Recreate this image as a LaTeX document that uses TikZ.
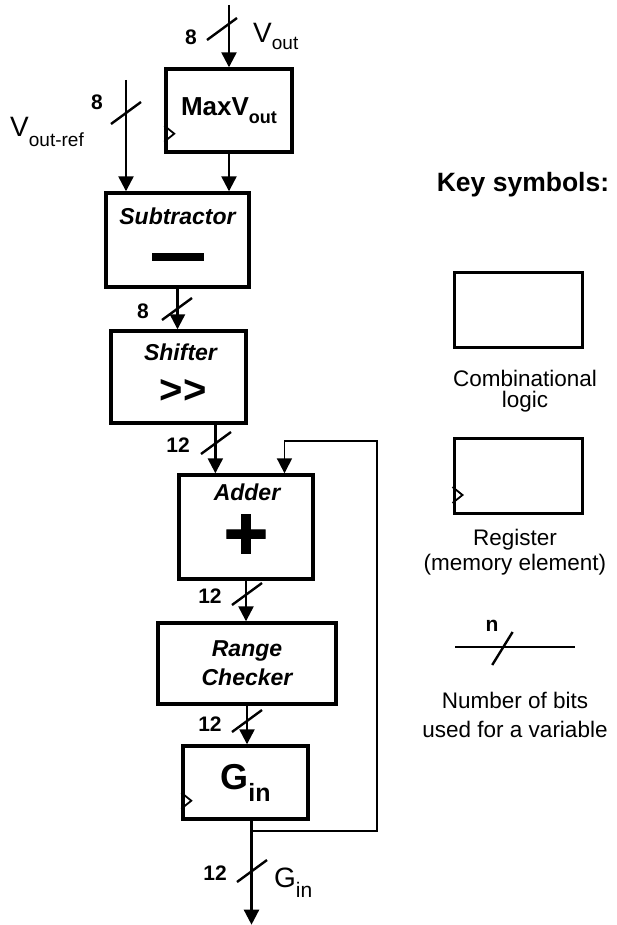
\documentclass[tikz,border=0pt]{standalone}
\usepackage{fontspec}
\setmainfont{Liberation Sans}
\newfontfamily\plusfont[FakeBold=1.5]{Liberation Sans Bold}
\usepackage{tikz}
\usetikzlibrary{calc,arrows.meta}

% font sizes
\newcommand{\bitfont}{\fontsize{21}{21}\selectfont\bfseries}
\newcommand{\titlefont}{\fontsize{23}{29}\selectfont\bfseries\itshape}
% bus width mark
\newcommand{\busslash}[1]{\draw[line width=2.4pt] ($(#1)+(-15,11)$) -- ($(#1)+(15,-11)$);}
% clock input of a register
\newcommand{\clk}[1]{\draw[line width=1.8pt] ($(#1.south west)+(0,-12)$) -- ++(10,-8) -- ++(-10,-8);}

\begin{document}
\begin{tikzpicture}[x=1pt,y=-1pt,
  block/.style={draw,line width=3.4pt,inner sep=0pt,align=center},
  bus/.style={line width=2.4pt,-{Triangle[length=15pt,width=15pt]}},
  bits/.style={font=\bitfont,inner sep=0pt}]

  \useasboundingbox (0,0) rectangle (616,925);

  % Blocks of the datapath
  \node[block,minimum width=126pt,minimum height=83pt,font=\fontsize{26}{26}\selectfont\bfseries] (maxv) at (229,110.5) {MaxV\raisebox{-8pt}{\fontsize{18}{18}\selectfont out}};
  \node[block,minimum width=143pt,minimum height=94pt] (sub) at (177.5,240) {};
  \node[block,minimum width=135pt,minimum height=92pt] (shift) at (178.5,377) {};
  \node[block,minimum width=134pt,minimum height=104pt] (adder) at (246,527) {};
  \node[block,minimum width=178pt,minimum height=81pt,font=\titlefont] (range) at (247,663.5) {Range\\Checker};
  \node[block,minimum width=125pt,minimum height=73pt,font=\fontsize{36}{36}\selectfont\bfseries] (gin) at (245.5,782.5) {G\raisebox{-12pt}{\fontsize{25}{25}\selectfont in}};

  % Block titles and operators
  \node[font=\titlefont,anchor=base,inner sep=0pt] (subt) at ($(sub.north)+(0,33)$) {Subtractor};
  \node[fill,minimum width=52pt,minimum height=8pt,inner sep=0pt] (minus) at (178,257) {};
  \node[font=\titlefont,anchor=base,inner sep=0pt] (shiftt) at ($(shift.north)+(2,31)$) {Shifter};
  \node[font=\fontsize{40}{40}\selectfont\bfseries,inner sep=0pt] (shr) at (183,391) {>{}>};
  \node[font=\titlefont,anchor=base,inner sep=0pt,text depth=0pt] (addt) at ($(adder.north)+(1,27)$) {Adder};
  \node[font=\plusfont\fontsize{76}{76}\selectfont,inner sep=0pt] (plus) at (246,537) {+};

  % Clock inputs
  \clk{maxv}
  \clk{gin}

  % Connectors
  \coordinate (vin) at (229,5);
  \coordinate (refin) at (126,80);
  \coordinate (addin) at ($(adder.north west)!0.277!(adder.north east)$);
  \coordinate (fbin) at ($(adder.north west)!0.78!(adder.north east)$);
  \coordinate (gout) at ($(gin.south)+(6,0)$);
  \coordinate (gend) at ($(gout)+(0,104)$);
  \coordinate (tap) at ($(gout)+(0,10)$);
  \coordinate (loopr) at (377,441);

  \draw[bus] (vin) -- (maxv.north);
  \draw[bus] (refin) -- (refin |- sub.north);
  \draw[bus] (maxv.south) -- (maxv.south |- sub.north);
  \draw[bus] (sub.south) -- (sub.south |- shift.north);
  \draw[bus] (addin |- shift.south) -- (addin);
  \draw[bus] (adder.south) -- (adder.south |- range.north);
  \draw[bus] (range.south) -- (range.south |- gin.north);
  \draw[bus] (gout) -- (gend);
  % feedback of the gain
  \draw[line width=1.8pt,-{Triangle[length=15pt,width=15pt]}] (tap) -| (loopr) -| (fbin);

  % Bus widths
  \busslash{222,29}
  \busslash{126,113}
  \busslash{177,309}
  \busslash{216,443}
  \busslash{247,594}
  \busslash{247,721}
  \busslash{252,871}
  \node[bits] (b1) at (191,37) {8};
  \node[bits] (b2) at (97,102) {8};
  \node[bits] (b3) at (143,311) {8};
  \node[bits] (b4) at (178,445) {12};
  \node[bits] (b5) at (210,596) {12};
  \node[bits] (b6) at (210,724) {12};
  \node[bits] (b7) at (215,873) {12};

  % Signal names
  \node[anchor=base west,inner sep=0pt,font=\fontsize{28}{28}\selectfont] (voutl) at (253,43) {V\raisebox{-7pt}{\fontsize{19}{19}\selectfont out}};
  \node[anchor=base west,inner sep=0pt,font=\fontsize{28}{28}\selectfont] (vrefl) at (10,137) {V\raisebox{-10pt}{\fontsize{19}{19}\selectfont out-ref}};
  \node[anchor=base west,inner sep=0pt,font=\fontsize{28}{28}\selectfont] (goutl) at (274,887) {G\raisebox{-10pt}{\fontsize{21}{21}\selectfont in}};

  % Key symbols
  \node[font=\fontsize{26.5}{27}\selectfont\bfseries,anchor=base] (keyt) at (523,192) {Key symbols:};
  \node[block,line width=3pt,minimum width=128pt,minimum height=75pt] (comb) at (518,309.5) {};
  \node[font=\fontsize{22.5}{21}\selectfont,align=center] (combt) at (525,391) {Combinational\\logic};
  \node[block,line width=3pt,minimum width=128pt,minimum height=75pt] (reg) at (518,476) {};
  \clk{reg}
  \node[font=\fontsize{22.5}{25}\selectfont,align=center] (regt) at (515,552) {Register\\(memory element)};
  \coordinate (nl) at (455,647);
  \coordinate (nr) at (575,647);
  \draw[line width=2.2pt] (nl) -- (nr);
  \draw[line width=2.4pt] ($(nl)!0.31!(nr)+(0,18)$) -- ($(nl)!0.48!(nr)+(0,-15)$);
  \node[bits] (nlab) at (492,626) {n};
  \node[font=\fontsize{22.5}{29}\selectfont,align=center] (nbt) at (515,715) {Number of bits\\used for a variable};

\end{tikzpicture}
\end{document}
